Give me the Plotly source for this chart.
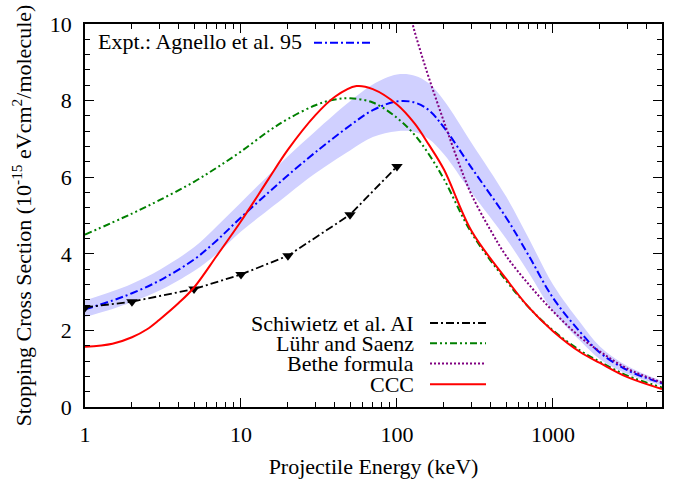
import plotly.graph_objects as go

# Experimental stopping cross sections (Agnello et al. 95) with uncertainty band
energy_expt = [1, 1.5, 2, 3, 5, 7, 10, 15, 20, 30, 50, 70, 100, 130, 160, 200,
               300, 500, 700, 1000, 1500, 2000, 3000, 5000]
expt = [2.55, 2.78, 2.97, 3.3, 3.85, 4.35, 4.95, 5.6, 6.05, 6.65, 7.35, 7.75,
        7.98, 7.95, 7.75, 7.3, 6.25, 4.95, 3.95, 2.85, 1.95, 1.42, 0.96, 0.62]
expt_lo = [2.35, 2.56, 2.74, 3.04, 3.55, 4.0, 4.58, 5.15, 5.55, 6.1, 6.7, 7.05,
           7.2, 7.18, 7.0, 6.6, 5.6, 4.4, 3.5, 2.5, 1.72, 1.25, 0.86, 0.56]
expt_hi = [2.78, 3.02, 3.22, 3.58, 4.17, 4.72, 5.34, 6.05, 6.55, 7.2, 7.98, 8.42,
           8.68, 8.65, 8.45, 8.0, 6.9, 5.5, 4.4, 3.2, 2.2, 1.58, 1.07, 0.68]

# Schiwietz et al. AI
energy_ai = [1, 2, 5, 10, 20, 50, 100]
ai = [2.6, 2.75, 3.08, 3.46, 3.95, 5.02, 6.28]

# Lühr and Saenz
energy_ls = [1, 2, 3, 5, 7, 10, 15, 20, 30, 40, 50, 70, 100, 130, 160, 200,
             300, 500, 700, 1000, 1500, 2000, 3000, 5000]
ls = [4.5, 5.05, 5.4, 5.88, 6.25, 6.67, 7.2, 7.52, 7.88, 8.03, 8.06, 7.95,
      7.55, 7.1, 6.6, 5.95, 4.55, 3.3, 2.6, 2.0, 1.47, 1.18, 0.82, 0.51]

# Bethe formula
energy_bethe = [110, 126, 140, 160, 200, 250, 300, 400, 500, 700, 1000, 1500,
                2000, 3000, 5000]
bethe = [11.2, 10.0, 9.35, 8.6, 7.45, 6.35, 5.55, 4.6, 3.95, 3.2, 2.5, 1.82,
         1.45, 1.0, 0.64]

# CCC
energy_ccc = [1, 1.5, 2, 2.5, 3, 4, 5, 7, 10, 15, 20, 30, 40, 55, 70, 100, 130,
              160, 200, 300, 500, 700, 1000, 1500, 2000, 3000, 5000]
ccc = [1.57, 1.65, 1.82, 2.03, 2.28, 2.72, 3.12, 3.95, 4.85, 5.95, 6.72, 7.62,
       8.1, 8.38, 8.3, 7.9, 7.4, 6.85, 6.2, 4.6, 3.35, 2.6, 1.98, 1.43, 1.15,
       0.78, 0.47]

x_tickvals = [1, 10, 100, 1000]
x_ticktext = ["1", "10", "100", "1000"]
y_tickvals = [0, 2, 4, 6, 8, 10]

FONT = "Liberation Serif"
FS = 22
BLUE = "#0000ff"
GREEN = "#008000"
PURPLE = "#800080"
RED = "#ff0000"
BLACK = "#000000"
DASHDOT = "8px,3px,2px,3px"
DASHDOTDOT = "7px,3px,2px,3px,2px,3px"
DOTS = "2px,2px"

fig = go.Figure()

# uncertainty band
fig.add_trace(go.Scatter(x=energy_expt, y=expt_lo, mode="lines",
                         line=dict(width=0, shape="spline"), hoverinfo="skip"))
fig.add_trace(go.Scatter(x=energy_expt, y=expt_hi, mode="lines",
                         line=dict(width=0, shape="spline"), fill="tonexty",
                         fillcolor="rgb(208,208,255)", hoverinfo="skip"))

fig.add_trace(go.Scatter(x=energy_expt, y=expt, mode="lines",
                         line=dict(color=BLUE, width=2, dash=DASHDOT, shape="spline")))
fig.add_trace(go.Scatter(x=energy_ai, y=ai, mode="lines+markers",
                         line=dict(color=BLACK, width=1.8, dash=DASHDOT),
                         marker=dict(symbol="triangle-down", size=10, color=BLACK)))
fig.add_trace(go.Scatter(x=energy_ls, y=ls, mode="lines",
                         line=dict(color=GREEN, width=2, dash=DASHDOTDOT, shape="spline")))
fig.add_trace(go.Scatter(x=energy_bethe, y=bethe, mode="lines",
                         line=dict(color=PURPLE, width=2, dash=DOTS, shape="spline")))
fig.add_trace(go.Scatter(x=energy_ccc, y=ccc, mode="lines",
                         line=dict(color=RED, width=2, shape="spline")))

# key entries: text followed by a line sample
L, R, T, B = 85, 17, 15, 66
W, H = 679, 487
pw, ph = W - L - R, H - T - B


def px(xp):
    return (xp - L) / pw


def py(yp):
    return (H - B - yp) / ph


annotations = []
shapes = []

annotations.append(dict(x=px(96), y=py(34), xref="paper", yref="paper",
                        text="Expt.: Agnello et al. 95", showarrow=False,
                        xanchor="left", yanchor="middle",
                        font=dict(family=FONT, size=FS, color=BLACK)))
shapes.append(dict(type="line", xref="paper", yref="paper",
                   x0=px(314), x1=px(372), y0=py(35), y1=py(35),
                   line=dict(color=BLUE, width=2, dash=DASHDOT)))

key = [("Schiwietz et al. AI", BLACK, DASHDOT, 332),
       ("Lühr and Saenz", GREEN, DASHDOTDOT, 353.5),
       ("Bethe formula", PURPLE, DOTS, 375),
       ("CCC", RED, "solid", 397)]
for label, color, dash, yy in key:
    annotations.append(dict(x=px(416), y=py(yy), xref="paper", yref="paper",
                            text=label, showarrow=False,
                            xanchor="right", yanchor="middle",
                            font=dict(family=FONT, size=FS, color=BLACK)))
    shapes.append(dict(type="line", xref="paper", yref="paper",
                       x0=px(430), x1=px(486), y0=py(yy), y1=py(yy),
                       line=dict(color=color, width=2, dash=dash)))

axis_common = dict(showline=True, linecolor=BLACK, linewidth=1.5,
                   mirror="allticks", ticks="inside", ticklen=9, tickwidth=1.2,
                   tickcolor=BLACK, showgrid=False, zeroline=False,
                   tickfont=dict(family=FONT, size=FS, color=BLACK))

fig.update_xaxes(type="log", range=[0, 3.69897], tickvals=x_tickvals,
                 ticktext=x_ticktext, ticklabelstandoff=7,
                 minor=dict(ticks="inside", ticklen=5, tickwidth=1,
                            tickcolor=BLACK, dtick="D1", showgrid=False),
                 title=dict(text="Projectile Energy (keV)", standoff=12,
                            font=dict(family=FONT, size=FS, color=BLACK)),
                 **axis_common)
fig.update_yaxes(range=[0, 10], tickvals=y_tickvals, ticklabelstandoff=7,
                 minor=dict(ticks="inside", ticklen=5, tickwidth=1,
                            tickcolor=BLACK, dtick=0.4, showgrid=False),
                 title=dict(text="Stopping Cross Section (10<sup>-15</sup> eVcm<sup>2</sup>/molecule)",
                            standoff=12,
                            font=dict(family=FONT, size=FS, color=BLACK)),
                 **axis_common)

fig.update_layout(width=W, height=H, margin=dict(l=L, r=R, t=T, b=B),
                  paper_bgcolor="white", plot_bgcolor="white",
                  showlegend=False, annotations=annotations, shapes=shapes,
                  font=dict(family=FONT, size=FS, color=BLACK))

fig.write_html("out.html")
